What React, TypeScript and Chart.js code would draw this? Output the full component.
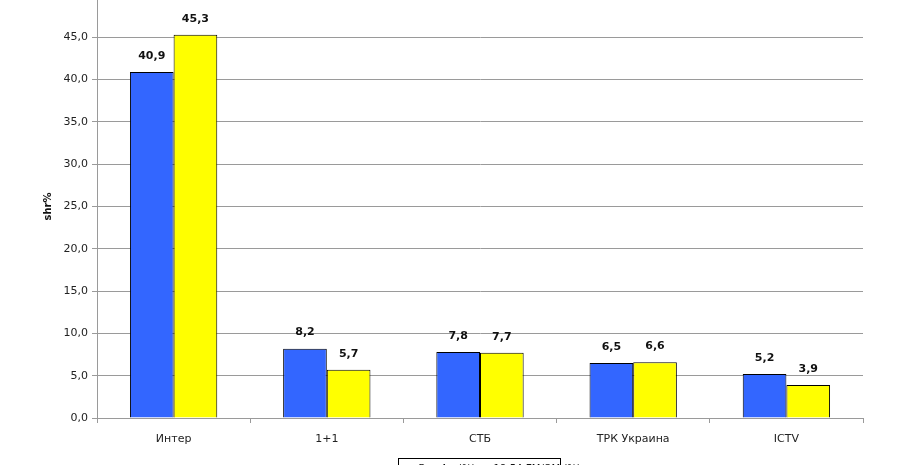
import React, { useEffect, useRef } from "react";
import { Chart, registerables } from "chart.js";

Chart.register(...registerables);

const categories = ["Интер", "1+1", "СТБ", "ТРК Украина", "ICTV"];
const seriesAll = [40.9, 8.2, 7.8, 6.5, 5.2];
const seriesTarget = [45.3, 5.7, 7.7, 6.6, 3.9];
const seriesNames = ["Все 4+ (%)", "18-54 ГМ/ОМ (%)"];
const seriesColors = ["#3366FF", "#FFFF00"];
const yMin = 0;
const yMax = 50;
const yStep = 5;
const yTitle = "shr%";

const fmt = (v: number, d: number) => v.toFixed(d).replace(".", ",");

const FONT = "'DejaVu Sans', Verdana, sans-serif";

const valueLabels = {
  id: "valueLabels",
  afterDatasetsDraw(chart: any) {
    const ctx = chart.ctx;
    ctx.save();
    ctx.font = `bold 11px ${FONT}`;
    ctx.fillStyle = "#111";
    ctx.textAlign = "center";
    ctx.textBaseline = "middle";
    chart.data.datasets.forEach((ds: any, i: number) => {
      const meta = chart.getDatasetMeta(i);
      meta.data.forEach((bar: any, j: number) => {
        ctx.fillText(fmt(ds.data[j], 1), bar.x, bar.y - 16);
      });
    });
    ctx.restore();
  },
};

const boxLegend = {
  id: "boxLegend",
  afterDraw(chart: any) {
    const { ctx, chartArea } = chart;
    const w = 162;
    const h = 40;
    const cx = (chartArea.left + chartArea.right) / 2;
    const x = Math.round(cx - w / 2) - 0.5;
    const y = Math.round(chartArea.bottom + 40) + 0.5;
    ctx.save();
    ctx.fillStyle = "#fff";
    ctx.fillRect(x, y, w, h);
    ctx.strokeStyle = "#000";
    ctx.lineWidth = 1;
    ctx.strokeRect(x, y, w, h);
    ctx.font = `10px ${FONT}`;
    ctx.textBaseline = "middle";
    ctx.textAlign = "left";
    let px = x + 10;
    const py = y + 11;
    chart.data.datasets.forEach((ds: any, i: number) => {
      ctx.fillStyle = ds.backgroundColor;
      ctx.fillRect(px, py - 4, 7, 7);
      ctx.strokeStyle = "#000";
      ctx.strokeRect(px + 0.5, py - 3.5, 6, 6);
      ctx.fillStyle = "#111";
      ctx.fillText(ds.label, px + 10, py);
      px += 10 + ctx.measureText(ds.label).width + 8;
    });
    ctx.restore();
  },
};

export default function App() {
  const ref = useRef<HTMLCanvasElement>(null);

  useEffect(() => {
    if (!ref.current) return;
    const chart = new Chart(ref.current, {
      type: "bar",
      data: {
        labels: categories,
        datasets: [
          {
            label: seriesNames[0],
            data: seriesAll,
            backgroundColor: seriesColors[0],
            borderColor: "#000",
            borderWidth: 1,
            categoryPercentage: 0.57,
            barPercentage: 1,
          },
          {
            label: seriesNames[1],
            data: seriesTarget,
            backgroundColor: seriesColors[1],
            borderColor: "#000",
            borderWidth: 1,
            categoryPercentage: 0.57,
            barPercentage: 1,
          },
        ],
      },
      options: {
        responsive: false,
        animation: false,
        devicePixelRatio: 1,
        layout: { padding: { top: 35, right: 57, bottom: 42, left: 0 } },
        plugins: {
          legend: { display: false },
          tooltip: { enabled: false },
        },
        scales: {
          x: {
            offset: true,
            grid: {
              offset: true,
              drawOnChartArea: true,
              color: (c: any) => (c.index === categories.length ? "#9a9a9a" : "rgba(0,0,0,0)"),
              tickColor: "#9a9a9a",
              tickLength: 5,
            },
            border: { color: "#9a9a9a", width: 1 },
            ticks: {
              color: "#222",
              font: { family: FONT, size: 11 },
              padding: 10,
              maxRotation: 0,
            },
            afterFit(scale: any) {
              scale.height = 40;
            },
          },
          y: {
            min: yMin,
            max: yMax,
            ticks: {
              stepSize: yStep,
              color: "#222",
              font: { family: FONT, size: 11 },
              padding: 4,
              callback: (v: any) => fmt(Number(v), 1),
            },
            grid: { color: "#9a9a9a", tickColor: "#9a9a9a", tickLength: 5, lineWidth: 1 },
            border: { color: "#9a9a9a", width: 1 },
            title: {
              display: true,
              text: yTitle,
              color: "#111",
              font: { family: FONT, size: 10, weight: "bold" },
              padding: { top: 42, bottom: 0 },
            },
            afterFit(scale: any) {
              scale.width = 97;
            },
          },
        },
      },
      plugins: [valueLabels, boxLegend],
    });
    return () => chart.destroy();
  }, []);

  return (
    <div style={{ position: "fixed", left: 0, top: -40, width: 920, height: 540, background: "#fff" }}>
      <canvas ref={ref} width={920} height={540} style={{ width: 920, height: 540, display: "block" }} />
    </div>
  );
}
